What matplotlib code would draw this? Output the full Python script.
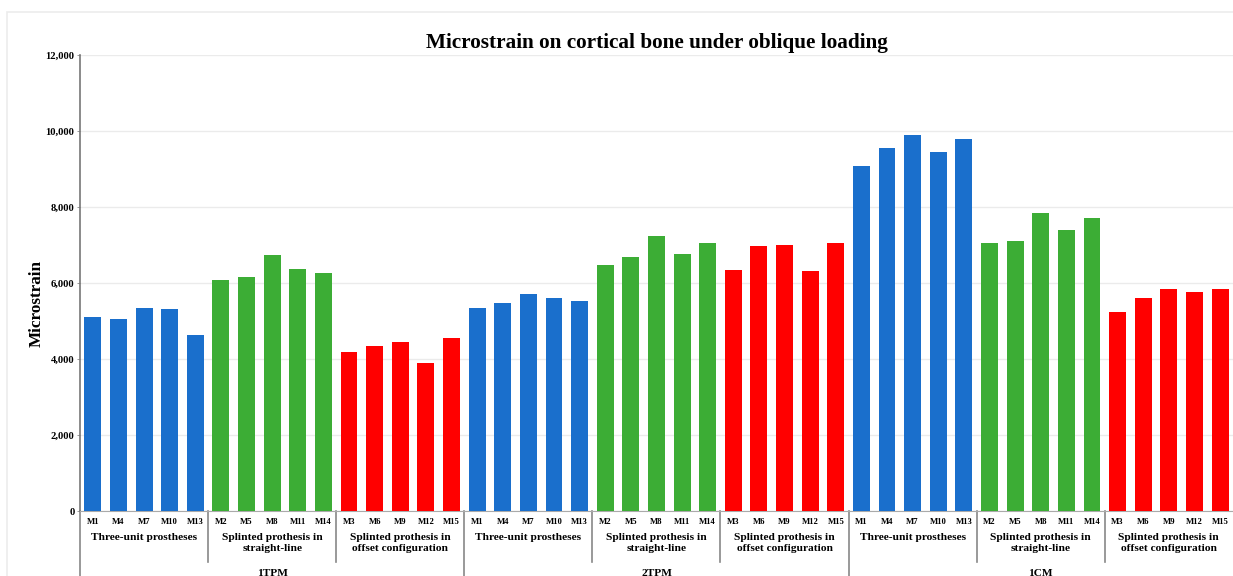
import numpy as np
import matplotlib.pyplot as plt
from matplotlib.patches import Rectangle

plt.rcParams['font.family'] = ['Liberation Serif', 'DejaVu Serif']
plt.rcParams['font.weight'] = 'bold'

# loading conditions and prosthesis designs
groups = ['1TPM', '2TPM', '1CM']
designs = ['Three-unit prostheses',
           'Splinted prothesis in\nstraight-line',
           'Splinted prothesis in\noffset configuration']
models = [['M1', 'M4', 'M7', 'M10', 'M13'],
          ['M2', 'M5', 'M8', 'M11', 'M14'],
          ['M3', 'M6', 'M9', 'M12', 'M15']]
colors = ['#1a6fcc', '#3cad35', '#ff0000']

# microstrain per group, design order: three-unit, straight, offset
tpm1 = [[5110, 5050, 5355, 5320, 4630],
        [6075, 6155, 6740, 6380, 6270],
        [4180, 4340, 4460, 3900, 4540]]
tpm2 = [[5330, 5480, 5720, 5600, 5520],
        [6470, 6680, 7230, 6760, 7040],
        [6330, 6970, 7010, 6310, 7040]]
cm1 = [[9085, 9540, 9900, 9450, 9780],
       [7040, 7110, 7850, 7390, 7700],
       [5225, 5610, 5840, 5770, 5850]]
values = [tpm1, tpm2, cm1]

fig = plt.figure(figsize=(12.33, 5.76), dpi=100)
ax = fig.add_axes([0.0649, 0.1128, 0.935, 0.7917])

# faint frame round the whole figure
fig.patches.append(Rectangle((0.006, -0.01), 0.999, 0.99, transform=fig.transFigure,
                             fill=False, edgecolor='#ececec', lw=1.2))

n_per = len(models[0])
pos = 0
heights, xs, cols, ticklabels = [], [], [], []
for g in range(len(groups)):
    for d in range(len(designs)):
        for k in range(n_per):
            xs.append(pos)
            heights.append(values[g][d][k])
            cols.append(colors[d])
            ticklabels.append(models[d][k])
            pos += 1

ax.bar(xs, heights, width=0.66, color=cols, zorder=3)
ax.set_xlim(-0.5, len(xs) - 0.5)
ax.set_ylim(0, 12000)
ax.set_yticks(np.arange(0, 12001, 2000))
ax.set_yticklabels([f'{v:,}' for v in range(0, 12001, 2000)], fontsize=7.6, fontweight='bold')
ax.tick_params(axis='y', length=2, width=0.6, color='#888888', pad=2)
ax.grid(axis='y', color='#ebebeb', lw=1, zorder=0)
for s in ['top', 'right']:
    ax.spines[s].set_visible(False)
ax.spines['left'].set_color('#777777')
ax.spines['left'].set_linewidth(1.2)
ax.spines['bottom'].set_color('#aaaaaa')
ax.spines['bottom'].set_linewidth(0.8)
ax.set_xticks([])

ax.set_title('Microstrain on cortical bone under oblique loading',
             fontsize=15.3, fontweight='bold', pad=5)
ax.set_ylabel('Microstrain', fontsize=12.3, fontweight='bold')
ax.yaxis.set_label_coords(-0.031, 0.455)

# multi-level category axis below the bars
tr = ax.get_xaxis_transform()
ax_h = 456.0


def yfrac(py):
    return (511 - py) / ax_h


for x, lab in zip(xs, ticklabels):
    ax.text(x, yfrac(522), lab, transform=tr, ha='center', va='center',
            fontsize=6.2, fontweight='bold', clip_on=False)

for g in range(len(groups)):
    for d in range(len(designs)):
        start = (g * len(designs) + d) * n_per
        mid = start + (n_per - 1) / 2
        ax.text(mid, yfrac(533), designs[d], transform=tr, ha='center', va='top',
                fontsize=8.2, fontweight='bold', linespacing=1.25, clip_on=False)
        if d > 0:
            ax.plot([start - 0.5, start - 0.5], [0, yfrac(562)], transform=tr,
                    color='#888888', lw=1.2, clip_on=False)
    gstart = g * len(designs) * n_per
    gmid = gstart + (len(designs) * n_per - 1) / 2
    ax.text(gmid, yfrac(573), groups[g], transform=tr, ha='center', va='center',
            fontsize=8.2, fontweight='bold', clip_on=False)
    ax.plot([gstart - 0.5, gstart - 0.5], [0, yfrac(590)], transform=tr,
            color='#888888', lw=1.2, clip_on=False)

fig.savefig('out.png', dpi=100)
